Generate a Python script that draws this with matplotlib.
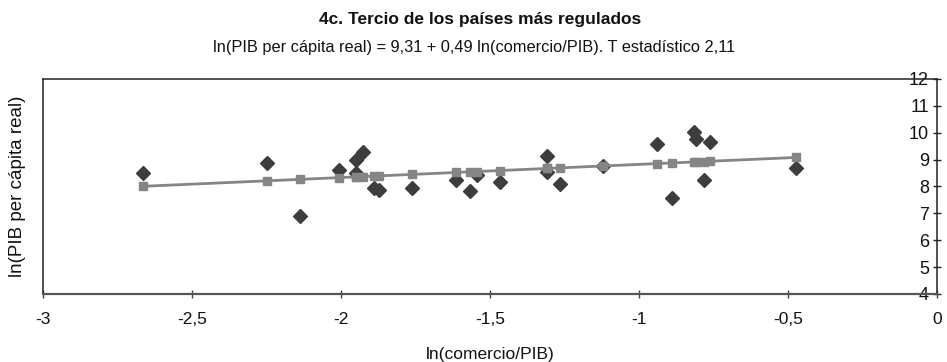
"""Scatter of ln(GDP per capita) against ln(trade/GDP) with the fitted line."""

import matplotlib.pyplot as plt
import numpy as np

plt.rcParams["font.family"] = ["Liberation Sans", "DejaVu Sans"]

TITLE = "4c. Tercio de los países más regulados"
SUBTITLE = "ln(PIB per cápita real) = 9,31 + 0,49 ln(comercio/PIB). T estadístico 2,11"
X_LABEL = "ln(comercio/PIB)"
Y_LABEL = "ln(PIB per cápita real)"

# Observed countries: ln(trade/GDP) and ln(real GDP per capita)
ln_trade = [
    -2.665, -2.249, -2.138, -2.007, -1.950, -1.925, -1.951, -1.889, -1.873,
    -1.761, -1.614, -1.543, -1.567, -1.466, -1.310, -1.310, -1.265, -1.122,
    -0.939, -0.888, -0.814, -0.807, -0.762, -0.781, -0.473,
]
ln_gdp = [
    8.49, 8.86, 6.90, 8.61, 8.98, 9.28, 8.49, 7.93, 7.87,
    7.94, 8.24, 8.42, 7.82, 8.16, 9.14, 8.52, 8.10, 8.76,
    9.58, 7.57, 10.03, 9.76, 9.64, 8.23, 8.67,
]

# Regression coefficients from the subtitle
INTERCEPT = 9.31
SLOPE = 0.49

x_ticks = [-3, -2.5, -2, -1.5, -1, -0.5, 0]
x_tick_labels = ["-3", "-2,5", "-2", "-1,5", "-1", "-0,5", "0"]
y_ticks = [4, 5, 6, 7, 8, 9, 10, 11, 12]

DIAMOND_COLOR = "#3d3d3d"
FIT_COLOR = "#858585"
AXIS_COLOR = "#222222"


def main():
    fig = plt.figure(figsize=(9.47, 3.62), dpi=100)
    ax = fig.add_axes([0.0454, 0.188, 0.944, 0.594])

    x = np.asarray(ln_trade)
    y = np.asarray(ln_gdp)
    order = np.argsort(x)
    fitted = INTERCEPT + SLOPE * x[order]

    ax.plot(x, y, linestyle="none", marker="D", markersize=6.8,
            color=DIAMOND_COLOR, zorder=2)
    ax.plot(x[order], fitted, color=FIT_COLOR, linewidth=2.0, marker="s",
            markersize=6.2, zorder=3)

    ax.set_xlim(-3, 0)
    ax.set_ylim(4, 12)

    ax.set_xticks(x_ticks)
    ax.set_xticklabels(x_tick_labels)
    ax.set_yticks(y_ticks)

    # y axis sits on the right edge (x = 0) with labels inside the frame
    ax.yaxis.set_ticks_position("right")
    ax.tick_params(axis="y", direction="inout", length=5.5, width=1,
                   color=AXIS_COLOR, labelsize=13, pad=-8.4,
                   labelcolor="#111111")
    for lbl in ax.get_yticklabels():
        lbl.set_horizontalalignment("right")
    ax.tick_params(axis="x", direction="inout", length=5.5, width=1,
                   color="#444444", labelsize=12.5, pad=10,
                   labelcolor="#111111")

    for side in ("left", "top", "right"):
        ax.spines[side].set_color(AXIS_COLOR)
        ax.spines[side].set_linewidth(1.1)
    ax.spines["bottom"].set_color("#555555")
    ax.spines["bottom"].set_linewidth(1.6)

    ax.set_xlabel(X_LABEL, fontsize=12.5, labelpad=15, color="#111111")
    ax.set_ylabel(Y_LABEL, fontsize=13.5, labelpad=12, color="#111111")

    fig.text(0.507, 0.947, TITLE, ha="center", va="center", fontsize=12.5,
             fontweight="bold", color="#111111")
    fig.text(0.5, 0.870, SUBTITLE, ha="center", va="center", fontsize=11.8,
             color="#111111")

    fig.savefig("out.png", dpi=100)
    plt.close(fig)


if __name__ == "__main__":
    main()
